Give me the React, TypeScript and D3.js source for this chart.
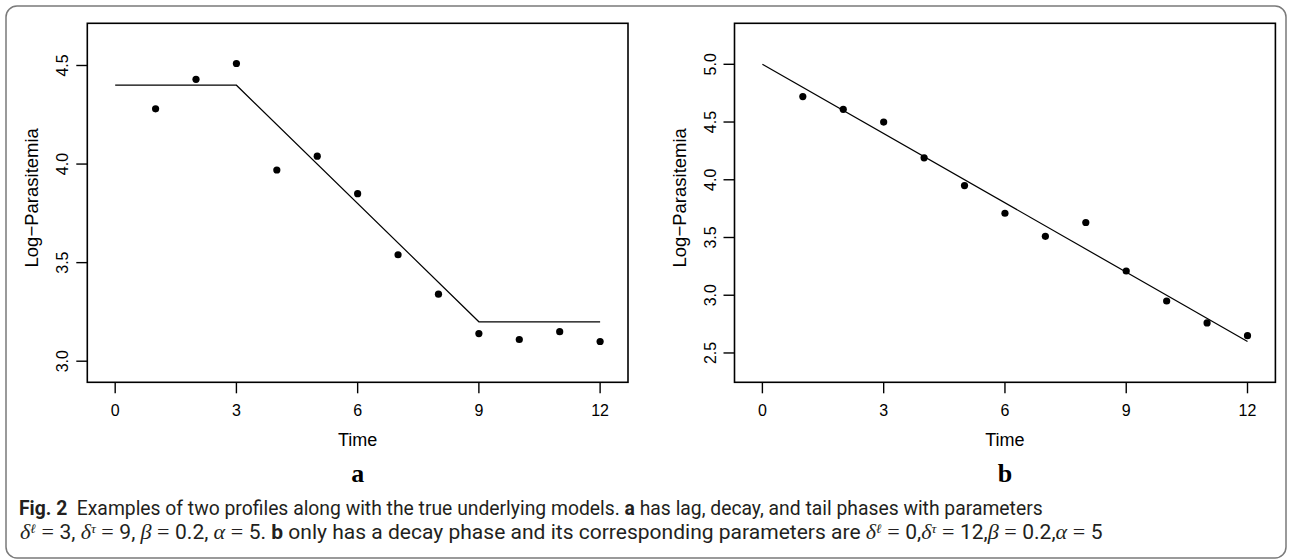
import React, { useEffect, useRef } from 'react';
import * as d3 from 'd3';

// observed profiles (log-parasitemia) at each time point
const times = [1, 2, 3, 4, 5, 6, 7, 8, 9, 10, 11, 12];
const profileA = [4.28, 4.43, 4.51, 3.97, 4.04, 3.85, 3.54, 3.34, 3.14, 3.11, 3.15, 3.10];
const profileB = [4.72, 4.61, 4.50, 4.19, 3.95, 3.71, 3.51, 3.63, 3.21, 2.95, 2.76, 2.65];

// true underlying models
const modelTimesA = [0, 3, 9, 12];
const modelA = [4.4, 4.4, 3.2, 3.2];
const modelTimesB = [0, 12];
const modelB = [5.0, 2.6];

const xTicks = [0, 3, 6, 9, 12];
const yTicksA = [3.0, 3.5, 4.0, 4.5];
const yTicksB = [2.5, 3.0, 3.5, 4.0, 4.5, 5.0];
const xDomain = [-0.69, 12.69];
const yDomainA = [2.893, 4.714];
const yDomainB = [2.246, 5.355];

const W = 1290;
const H = 560;
const SANS = '"Liberation Sans", Arial, Helvetica, sans-serif';
const SERIF = '"Liberation Serif", "Times New Roman", serif';
const CAP = 'Roboto, "Noto Sans", sans-serif';

function drawPanel(svg, p) {
  const g = svg.append('g');
  const x = d3.scaleLinear().domain(xDomain).range([p.left, p.right]);
  const y = d3.scaleLinear().domain(p.yDomain).range([p.bottom, p.top]);
  const tick = 11;

  // model line
  const line = d3.line().x(d => x(d[0])).y(d => y(d[1]));
  g.append('path')
    .datum(p.modelT.map((t, i) => [t, p.modelV[i]]))
    .attr('d', line)
    .attr('fill', 'none')
    .attr('stroke', '#000')
    .attr('stroke-width', 1.2);

  // points
  g.selectAll('circle.pt')
    .data(times.map((t, i) => [t, p.values[i]]))
    .join('circle')
      .attr('class', 'pt')
      .attr('cx', d => x(d[0]))
      .attr('cy', d => y(d[1]))
      .attr('r', 3.6)
      .attr('fill', '#000');

  // box
  g.append('rect')
    .attr('x', p.left)
    .attr('y', p.top)
    .attr('width', p.right - p.left)
    .attr('height', p.bottom - p.top)
    .attr('fill', 'none')
    .attr('stroke', '#000')
    .attr('stroke-width', 1.6);

  // x axis
  g.selectAll('line.xt')
    .data(xTicks)
    .join('line')
      .attr('class', 'xt')
      .attr('x1', d => x(d)).attr('x2', d => x(d))
      .attr('y1', p.bottom).attr('y2', p.bottom + tick)
      .attr('stroke', '#000').attr('stroke-width', 1.4);
  g.selectAll('text.xl')
    .data(xTicks)
    .join('text')
      .attr('class', 'xl')
      .attr('x', d => x(d))
      .attr('y', 415.5)
      .attr('text-anchor', 'middle')
      .style('font-family', SANS)
      .style('font-size', '16px')
      .text(d => d);

  // y axis
  g.selectAll('line.yt')
    .data(p.yTicks)
    .join('line')
      .attr('class', 'yt')
      .attr('x1', p.left - tick).attr('x2', p.left)
      .attr('y1', d => y(d)).attr('y2', d => y(d))
      .attr('stroke', '#000').attr('stroke-width', 1.4);
  g.selectAll('text.yl')
    .data(p.yTicks)
    .join('text')
      .attr('class', 'yl')
      .attr('transform', d => `translate(${p.left - 19},${y(d)}) rotate(-90)`)
      .attr('text-anchor', 'middle')
      .style('font-family', SANS)
      .style('font-size', '16px')
      .text(d => d3.format('.1f')(d));

  // axis titles
  g.append('text')
    .attr('x', (x(0) + x(12)) / 2)
    .attr('y', 445.7)
    .attr('text-anchor', 'middle')
    .style('font-family', SANS)
    .style('font-size', '18px')
    .text('Time');
  g.append('text')
    .attr('transform', `translate(${p.left - 49},${(p.top + p.bottom) / 2 - 5}) rotate(-90)`)
    .attr('text-anchor', 'middle')
    .style('font-family', SANS)
    .style('font-size', '18.5px')
    .text('Log\u2212Parasitemia');

  // panel letter
  g.append('text')
    .attr('x', (x(0) + x(12)) / 2)
    .attr('y', 481.5)
    .attr('text-anchor', 'middle')
    .style('font-family', SERIF)
    .style('font-weight', 'bold')
    .style('font-size', '26px')
    .text(p.label);
}

// caption line: mixed fonts in tspans, then squeezed horizontally to the reference width
function captionLine(svg, segs, x, y, len) {
  const t = svg.append('text')
    .attr('x', x)
    .attr('y', y)
    .style('font-family', CAP)
    .style('font-size', '20px')
    .style('white-space', 'pre')
    .attr('fill', '#231f20');
  let shift = 0;
  segs.forEach(s => {
    const sp = t.append('tspan').text(s.t);
    const want = s.sup ? -6 : 0;
    if (want !== shift) { sp.attr('dy', want - shift); shift = want; }
    if (s.b) sp.style('font-weight', 'bold');
    if (s.m) sp.style('font-family', SERIF).style('font-style', 'italic').style('font-size', s.sup ? '13px' : '21px');
    if (s.eq) sp.style('font-family', SERIF).style('font-size', '21px');
  });
  const w = t.node().getComputedTextLength();
  const sx = w > 0 ? len / w : 1;
  t.attr('transform', `translate(${x},0) scale(${sx},1) translate(${-x},0)`);
}

export default function App() {
  const ref = useRef(null);

  useEffect(() => {
    const svg = d3.select(ref.current);
    svg.selectAll('*').remove();

    svg.append('rect')
      .attr('x', 6).attr('y', 6)
      .attr('width', 1280).attr('height', 552)
      .attr('rx', 11)
      .attr('fill', 'none')
      .attr('stroke', '#7a7a7a')
      .attr('stroke-width', 1.5);

    drawPanel(svg, {
      left: 87.3, right: 628, top: 23.3, bottom: 382.3,
      yDomain: yDomainA, yTicks: yTicksA, values: profileA,
      modelT: modelTimesA, modelV: modelA, label: 'a'
    });
    drawPanel(svg, {
      left: 734.5, right: 1275.4, top: 23.3, bottom: 382.3,
      yDomain: yDomainB, yTicks: yTicksB, values: profileB,
      modelT: modelTimesB, modelV: modelB, label: 'b'
    });

    const d = { t: '\u03b4', m: true };
    const ell = { t: '\u2113', m: true, sup: true };
    const tau = { t: '\u03c4', m: true, sup: true };
    const beta = { t: '\u03b2', m: true };
    const alpha = { t: '\u03b1', m: true };
    const eq = { t: ' = ', eq: true };

    captionLine(svg, [
      { t: 'Fig. 2', b: true },
      { t: '  Examples of two profiles along with the true underlying models. ' },
      { t: 'a', b: true },
      { t: ' has lag, decay, and tail phases with parameters' }
    ], 19, 515, 1024);

    captionLine(svg, [
      d, ell, eq, { t: '3, ' }, d, tau, eq, { t: '9, ' }, beta, eq, { t: '0.2, ' }, alpha, eq, { t: '5. ' },
      { t: 'b', b: true },
      { t: ' only has a decay phase and its corresponding parameters are ' },
      d, ell, eq, { t: '0,' }, d, tau, eq, { t: '12,' }, beta, eq, { t: '0.2,' }, alpha, eq, { t: '5' }
    ], 20, 539, 1083);
  }, []);

  return (
    <svg ref={ref} width={W} height={H}
      style={{ position: 'absolute', left: 0, top: 0, background: '#fff' }} />
  );
}
